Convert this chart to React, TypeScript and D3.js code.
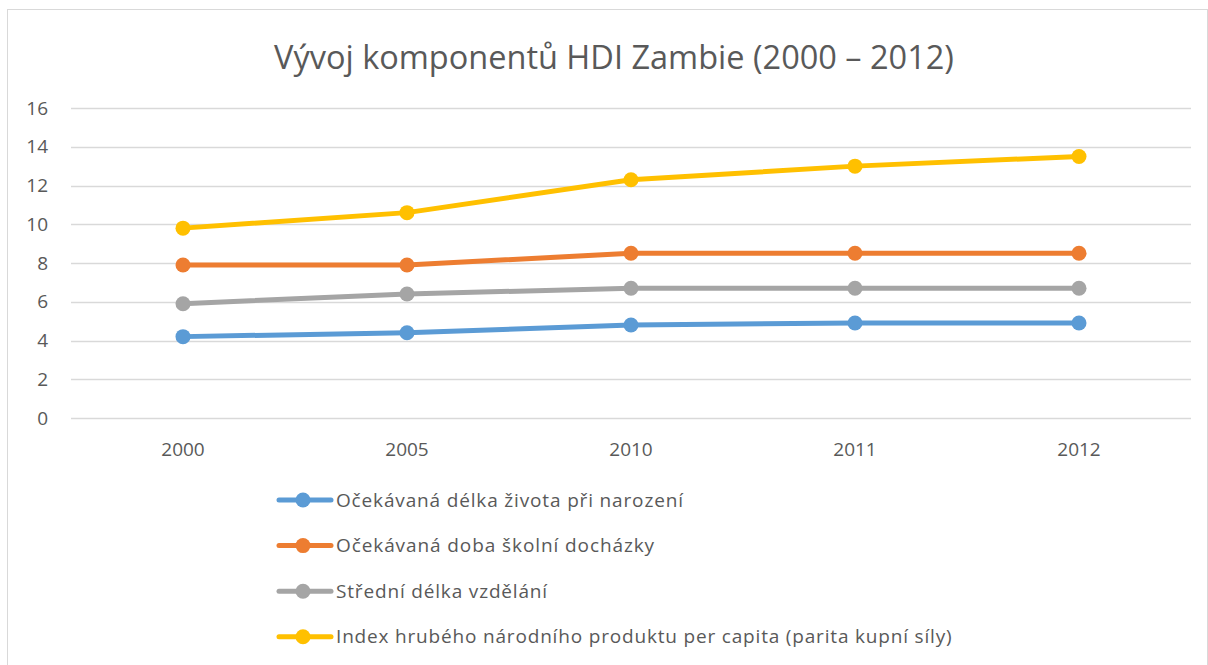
import React, { useEffect, useRef } from 'react';
import * as d3 from 'd3';

const years = ['2000', '2005', '2010', '2011', '2012'];
const seriesNames = [
  'Očekávaná délka života při narození',
  'Očekávaná doba školní docházky',
  'Střední délka vzdělání',
  'Index hrubého národního produktu per capita (parita kupní síly)',
];
const lifeExpectancy = [4.2, 4.4, 4.8, 4.9, 4.9];
const expectedSchooling = [7.9, 7.9, 8.5, 8.5, 8.5];
const meanSchooling = [5.9, 6.4, 6.7, 6.7, 6.7];
const gniIndex = [9.8, 10.6, 12.3, 13.0, 13.5];
const yTicks = [0, 2, 4, 6, 8, 10, 12, 14, 16];
const colors = ['#5b9bd5', '#ed7d31', '#a5a5a5', '#ffc000'];

const FONT = "'Open Sans', 'Noto Sans', sans-serif";

export default function App() {
  const svgRef = useRef<SVGSVGElement>(null);

  useEffect(() => {
    const svg = d3.select(svgRef.current);
    svg.selectAll('*').remove();

    const plot = { left: 71, right: 1191, top: 108, bottom: 418 };

    // chart frame
    svg.append('rect')
      .attr('x', 7.5).attr('y', 9.5)
      .attr('width', 1200).attr('height', 700)
      .attr('fill', 'white')
      .attr('stroke', '#d9d9d9')
      .attr('stroke-width', 1);

    // title
    svg.append('text')
      .attr('x', 614).attr('y', 69)
      .attr('text-anchor', 'middle')
      .attr('font-family', FONT)
      .attr('font-size', 32.5)
      .attr('fill', '#595959')
      .text('Vývoj komponentů HDI Zambie (2000 – 2012)');

    const x = d3.scaleBand().domain(years).range([plot.left, plot.right]);
    const y = d3.scaleLinear().domain([0, 16]).range([plot.bottom, plot.top]);

    // gridlines + y labels
    const grid = svg.append('g');
    yTicks.forEach(t => {
      grid.append('line')
        .attr('x1', plot.left).attr('x2', plot.right)
        .attr('y1', Math.round(y(t)) + 0.5).attr('y2', Math.round(y(t)) + 0.5)
        .attr('stroke', '#d9d9d9').attr('stroke-width', 1.5);
      grid.append('text')
        .attr('x', 48).attr('y', y(t))
        .attr('dy', '0.35em')
        .attr('text-anchor', 'end')
        .attr('font-family', FONT)
        .attr('font-size', 19)
        .attr('fill', '#595959')
        .text(t);
    });

    // x labels
    years.forEach(yr => {
      svg.append('text')
        .attr('x', x(yr)! + x.bandwidth() / 2).attr('y', 449)
        .attr('dy', '0.35em')
        .attr('text-anchor', 'middle')
        .attr('font-family', FONT)
        .attr('font-size', 19)
        .attr('fill', '#595959')
        .text(yr);
    });

    const allSeries = [lifeExpectancy, expectedSchooling, meanSchooling, gniIndex];
    const line = d3.line<number>()
      .x((_, i) => x(years[i])! + x.bandwidth() / 2)
      .y(d => y(d));

    allSeries.forEach((vals, si) => {
      const g = svg.append('g');
      g.append('path')
        .datum(vals)
        .attr('d', line)
        .attr('fill', 'none')
        .attr('stroke', colors[si])
        .attr('stroke-width', 5)
        .attr('stroke-linejoin', 'round')
        .attr('stroke-linecap', 'round');
      g.selectAll('circle')
        .data(vals)
        .enter()
        .append('circle')
        .attr('cx', (_, i) => x(years[i])! + x.bandwidth() / 2)
        .attr('cy', d => y(d))
        .attr('r', 7.5)
        .attr('fill', colors[si]);
    });

    // legend
    const legendTop = 500;
    const legendStep = 45.6;
    seriesNames.forEach((name, i) => {
      const ly = legendTop + i * legendStep;
      const lg = svg.append('g');
      lg.append('line')
        .attr('x1', 279).attr('x2', 331)
        .attr('y1', ly).attr('y2', ly)
        .attr('stroke', colors[i])
        .attr('stroke-width', 5)
        .attr('stroke-linecap', 'round');
      lg.append('circle')
        .attr('cx', 303).attr('cy', ly).attr('r', 7.5)
        .attr('fill', colors[i]);
      const txt = lg.append('text')
        .attr('x', 336).attr('y', ly)
        .attr('dy', '0.35em')
        .attr('font-family', FONT)
        .attr('font-size', 19)
        .attr('fill', '#595959')
        .text(name);
      // stretch slightly to the wider spacing of the original face
      const w = (txt.node() as SVGTextElement).getComputedTextLength();
      txt.attr('textLength', w * 1.09).attr('lengthAdjust', 'spacing');
    });
  }, []);

  return (
    <div style={{ position: 'absolute', left: 0, top: 0 }}>
      <svg ref={svgRef} width={1208} height={665} style={{ display: 'block' }} />
    </div>
  );
}
